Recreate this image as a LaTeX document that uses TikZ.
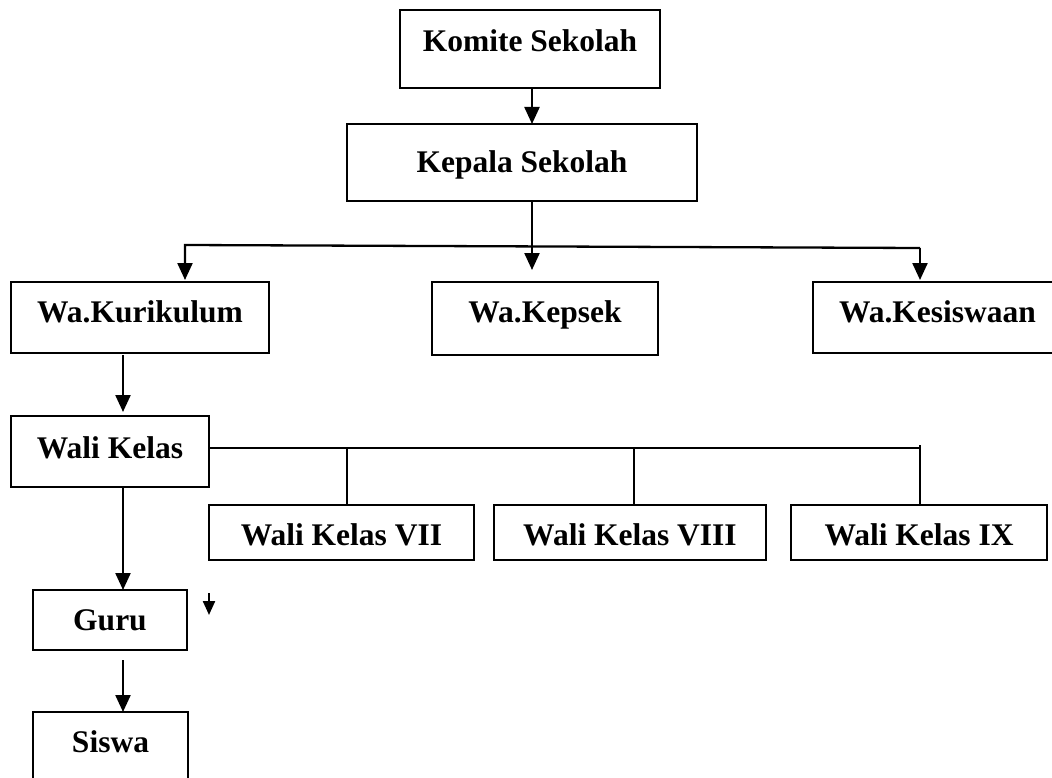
\documentclass[tikz,border=0pt]{standalone}
\usepackage{fontspec}
\setmainfont{Liberation Serif}
\usetikzlibrary{arrows.meta,calc}
\tikzset{
  box/.style={draw, line width=2.3pt, rectangle, anchor=north west, inner xsep=0pt, inner ysep=0pt, outer sep=0pt,
    font=\bfseries\fontsize{31.5}{36}\selectfont, align=center},
  conn/.style={line width=2.3pt, -{Triangle[length=17pt,width=15pt]}},
  smallarr/.style={line width=2.3pt, -{Triangle[length=14pt,width=12pt]}},
  bus/.style={line width=1.8pt}
}
\begin{document}
\begin{tikzpicture}[x=1pt,y=-1pt]
\useasboundingbox (0,0) rectangle (1052,778);
\clip (0,0) rectangle (1052,778);
\fill[white] (0,0) rectangle (1052,778);
% boxes
\node[box, minimum width=260pt, text height=42pt, text depth=36pt] (komite) at (400,10) {Komite Sekolah};
\node[box, minimum width=350pt, text height=49pt, text depth=28pt] (kepala) at (347,124) {Kepala Sekolah};
\node[box, minimum width=258pt, text height=40pt, text depth=31pt] (kurikulum) at (11,282) {Wa.Kurikulum};
\node[box, minimum width=226pt, text height=40pt, text depth=33pt] (kepsek) at (432,282) {Wa.Kepsek};
\node[box, minimum width=249pt, text height=40pt, text depth=31pt] (kesiswaan) at (813,282) {Wa.Kesiswaan};
\node[box, minimum width=198pt, text height=42pt, text depth=29pt] (walikelas) at (11,416) {Wali Kelas};
\node[box, minimum width=265pt, text height=40pt, text depth=15pt] (vii) at (209,505) {Wali Kelas VII};
\node[box, minimum width=272pt, text height=40pt, text depth=15pt] (viii) at (494,505) {Wali Kelas VIII};
\node[box, minimum width=256pt, text height=40pt, text depth=15pt] (ix) at (791,505) {Wali Kelas IX};
\node[box, minimum width=154pt, text height=40pt, text depth=20pt] (guru) at (33,590) {Guru};
\node[box, minimum width=155pt, text height=40pt, text depth=48pt] (siswa) at (33,712) {Siswa};
% coordinates
\coordinate (k) at (532,0);
\coordinate (hl) at (185,245);
\coordinate (hr) at (920,248);
\coordinate (c) at (123,0);
\coordinate (bus) at (0,448);
\coordinate (v1) at (347,448);
\coordinate (v2) at (634,448);
\coordinate (v3) at (920,448);
\coordinate (s1) at (209,593);
\coordinate (s2) at (209,615);
% connectors
\draw[conn] (k |- komite.south) -- (k |- kepala.north);
\draw[conn, shorten >=12pt] (k |- kepala.south) -- (k |- kepsek.north);
\draw[conn, shorten >=2pt] (hr) -- (hl) -- (hl |- kurikulum.north);
\draw[conn, shorten >=2pt] (hr) -- (hr |- kesiswaan.north);
\draw[conn, shorten >=4pt, shorten <=2pt] (c |- kurikulum.south) -- (c |- walikelas.north);
\draw[conn] (c |- walikelas.south) -- (c |- guru.north);
\draw[conn, shorten <=10pt] (c |- guru.south) -- (c |- siswa.north);
\draw[bus] (walikelas.east |- bus) -- (v3);
\draw[bus] (v1) -- (v1 |- vii.north);
\draw[bus] (v2) -- (v2 |- viii.north);
\draw[bus] ($(v3)+(0,-3)$) -- (v3 |- ix.north);
\draw[smallarr] (s1) -- (s2);
\end{tikzpicture}
\end{document}
